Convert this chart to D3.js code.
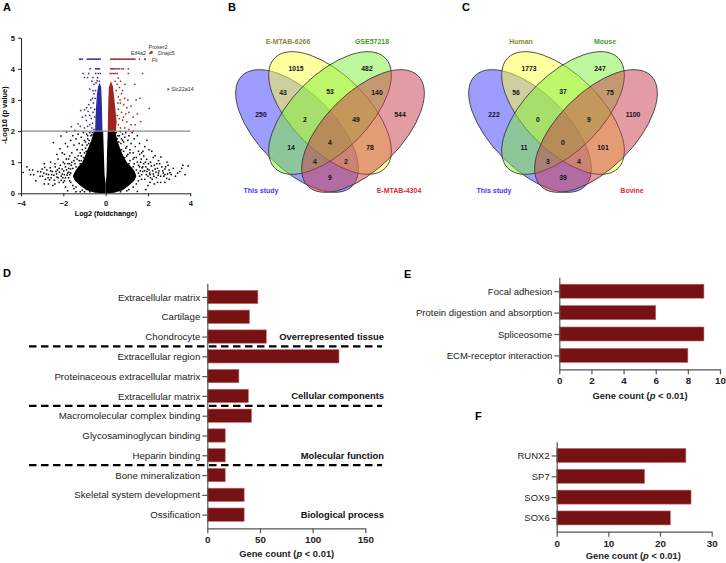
<!DOCTYPE html>
<html><head><meta charset="utf-8">
<script src="https://cdn.jsdelivr.net/npm/d3@7"></script>
<style>body{margin:0;background:#fff}svg{display:block}text{font-family:"Liberation Sans",Arial,sans-serif}</style>
</head><body><svg id="c" width="726" height="563"></svg>
<script>
// ---------- Panel A data (volcano) ----------
const xTicksA = [-4,-2,0,2,4];
const yTicksA = [0,1,2,3,4,5];
const thresholdA = 2;
const blackCoreLeft = [[-0.12,2.0],[-0.55,2.0],[-0.68,1.7],[-0.8,1.5],[-0.95,1.25],[-1.1,1.0],[-1.3,0.85],[-1.45,0.7],[-1.55,0.55],[-1.45,0.4],[-1.2,0.25],[-0.9,0.1],[-0.5,0.02],[0,0.0],[0,0.3],[-0.05,0.6],[-0.08,1.2],[-0.1,1.6]];
const blackCoreRight = [[0.1,2.0],[0.45,2.0],[0.55,1.7],[0.65,1.5],[0.8,1.25],[1.0,1.0],[1.2,0.85],[1.38,0.7],[1.45,0.55],[1.35,0.4],[1.1,0.25],[0.8,0.1],[0.4,0.02],[0,0.0],[0,0.3],[0.04,0.6],[0.06,1.2],[0.08,1.6]];
const blueCore = [[-0.15,2.0],[-0.5,2.0],[-0.48,2.4],[-0.45,2.8],[-0.41,3.2],[-0.35,3.45],[-0.28,3.55],[-0.21,3.4],[-0.18,2.9]];
const redCore = [[0.1,2.0],[0.48,2.0],[0.52,2.3],[0.46,2.7],[0.4,3.1],[0.34,3.45],[0.25,3.6],[0.15,3.4],[0.12,2.8]];
const blackPoints = [[-3.9,0.67],[-3.72,0.85],[-3.45,0.75],[-3.4,0.6],[-3.2,0.7],[-3.07,0.69],[-2.98,0.55],[-2.88,0.83],[-2.8,0.62],[-2.72,0.5],[-2.65,0.43],[-2.6,0.72],[-2.55,0.6],[-2.47,1.63],[-2.4,0.95],[-2.35,0.7],[-2.3,0.52],[-2.25,1.1],[-2.2,0.8],[-2.16,1.43],[-2.11,1.84],[-2.05,0.62],[-2.0,1.0],[-1.95,1.25],[-1.9,0.85],[-1.85,1.97],[-1.8,1.5],[-1.75,1.1],[-1.7,0.95],[-1.65,1.7],[-1.6,1.3],[-1.55,1.85],[-1.5,1.55],[-1.45,1.15],[-1.4,1.75],[-1.35,1.4],[-1.3,1.9],[-1.25,1.6],[-1.2,1.3],[-1.15,1.8],[-1.1,1.55],[-1.05,1.95],[-1.0,1.7],[-0.95,1.45],[-0.9,1.9],[-0.85,1.75],[-0.8,1.6],[-0.75,1.95],[-0.7,1.85],[-3.3,0.4],[-2.9,0.3],[-2.5,0.25],[-2.2,0.35],[-1.9,0.2],[-1.7,0.4],[-1.5,0.15],[-1.3,0.5],[-1.8,0.08],[-1.4,0.05],[-1.15,1.05],[-1.35,1.1],[-1.6,1.0],[-1.85,0.75],
[-0.62,1.95],[-0.7,1.6],[-0.78,1.7],[-0.88,1.55],[-0.92,1.35],[-1.0,1.3],[-1.05,1.15],[-1.15,1.2],[-1.2,0.95],[-1.25,1.05],[-1.4,0.85],[-1.45,0.95],[-1.55,0.8],[-1.65,0.65],[-1.7,0.6],[-1.75,0.5],[-1.8,0.65],[-1.65,0.35],[-1.55,0.25],[-1.4,0.2],[-1.1,0.1],[-1.2,0.05],[-0.65,1.88],[-0.85,1.85],[-0.95,1.65],[-1.1,1.4],[-1.3,1.2],[-1.5,1.05],[-1.75,0.8],[-1.95,0.6],[-2.1,0.55],[-1.95,0.4],[-1.0,0.05],[-0.75,0.05],
[-3.1,0.55],[-3.0,0.78],[-2.92,0.65],[-2.85,0.45],[-2.78,0.75],[-2.7,0.6],[-2.62,0.82],[-2.58,0.5],[-2.52,0.7],[-2.45,0.58],[-2.42,0.42],[-2.38,0.85],[-2.32,0.62],[-2.28,0.75],[-2.24,0.5],[-2.18,0.68],[-2.14,0.9],[-2.1,0.42],[-2.06,0.78],[-2.02,0.5],[-1.98,0.72],[-1.94,0.95],[-1.9,0.5],[-1.86,1.1],[-1.82,0.58],[-1.78,0.95],[-1.74,0.68],[-1.7,1.2],[-1.66,0.78],[-1.62,0.9],[-3.55,0.6],[-3.6,0.75],[-2.7,0.3],[-2.4,0.3],[-2.0,0.35],[-2.05,1.3],[-1.9,1.6],[-2.3,1.25],[-2.6,1.0],[-2.9,0.95],
[3.9,0.88],[3.59,0.8],[3.4,0.65],[3.2,0.8],[3.04,0.66],[2.95,0.9],[2.83,0.85],[2.75,0.55],[2.7,0.72],[2.61,1.17],[2.55,0.95],[2.5,0.65],[2.45,0.8],[2.4,0.5],[2.33,1.21],[2.3,0.9],[2.25,0.62],[2.18,1.35],[2.12,1.0],[2.05,0.75],[2.0,0.55],[1.94,1.09],[1.9,0.85],[1.85,1.5],[1.8,1.2],[1.75,0.7],[1.7,1.3],[1.65,1.0],[1.6,1.6],[1.55,1.35],[1.5,1.85],[1.45,1.15],[1.4,1.5],[1.35,1.75],[1.3,1.3],[1.25,1.95],[1.2,1.6],[1.15,1.4],[1.1,1.85],[1.05,1.7],[1.0,1.5],[0.95,1.95],[0.9,1.8],[0.85,1.65],[0.8,1.9],[0.75,1.75],[0.7,1.98],[0.65,1.85],[3.0,0.45],[2.6,0.35],[2.3,0.3],[2.0,0.25],[1.7,0.45],[2.8,0.6],[3.3,0.55],[3.5,0.7],[1.5,0.06],[1.9,0.12],[1.3,1.1],[1.05,1.25],[1.6,0.85],[2.2,0.45],
[0.5,1.95],[0.58,1.85],[0.62,1.65],[0.72,1.6],[0.75,1.4],[0.85,1.35],[0.9,1.15],[1.0,1.2],[1.1,0.95],[1.15,1.05],[1.3,0.85],[1.35,0.95],[1.45,0.75],[1.55,0.65],[1.6,0.55],[1.7,0.6],[1.55,0.4],[1.45,0.3],[1.3,0.2],[1.0,0.08],[1.1,0.12],[0.55,1.75],[0.8,1.7],[0.95,1.45],[1.15,1.3],[1.35,1.15],[1.5,1.0],[1.75,0.85],[1.95,0.7],[2.1,0.6],[1.85,0.45],[0.7,0.05],
[3.1,0.6],[3.0,0.75],[2.92,0.62],[2.88,0.48],[2.8,0.78],[2.72,0.65],[2.65,0.85],[2.6,0.55],[2.52,0.72],[2.48,0.58],[2.42,0.95],[2.38,0.68],[2.34,0.78],[2.28,0.55],[2.22,0.72],[2.16,0.88],[2.12,0.5],[2.08,0.65],[2.02,0.95],[1.98,0.78],[1.92,0.6],[1.88,1.0],[1.84,0.72],[1.8,0.95],[1.76,1.35],[1.72,0.82],[1.68,1.1],[1.64,0.72],[1.6,1.25],[1.56,0.9],[3.65,0.9],[3.75,0.6],[2.8,0.35],[2.45,0.35],[2.1,0.35],[2.25,1.15],[2.05,1.4],[2.5,1.05],[2.9,1.0],[1.95,1.7]];
const bluePoints = [[-1.23,4.31],[-1.17,4.31],[-1.11,4.31],[-0.86,4.31],[-0.8,4.31],[-0.74,4.31],[-0.68,4.31],[-0.62,4.31],[-0.56,4.31],[-0.5,4.31],[-0.44,4.31],[-0.38,4.31],[-0.32,4.31],[-0.26,4.31],
[-0.73,4.0],[-0.47,4.0],[-0.41,4.0],[-0.35,4.0],[-0.29,4.0],[-1.07,3.85],[-0.8,3.85],[-0.47,3.85],[-0.35,3.85],[-0.25,3.85],[-1.0,3.72],[-0.85,3.72],[-0.6,3.72],[-0.38,3.72],
[-0.55,3.5],[-0.6,3.3],[-0.7,3.0],[-0.65,3.6],[-0.55,3.2],[-0.8,2.85],[-0.9,2.75],[-1.0,2.68],[-1.18,2.66],[-0.83,2.63],[-0.91,2.34],[-0.75,2.5],[-0.68,2.4],[-1.3,2.23],[-1.62,2.14],[-1.2,2.15],[-1.0,2.1],[-1.46,2.02],[-0.85,2.15],[-0.75,2.2],[-0.62,2.25],[-0.6,2.6],[-0.58,2.9],[-0.52,2.45],[-0.52,2.7],[-0.5,3.05],[-1.1,2.45],[-0.95,2.5],[-0.7,2.75],[-0.65,2.1],[-0.55,2.05],[-0.48,3.3],[-0.45,3.55],[-0.4,3.62],[-0.3,3.6],[-0.75,3.35],[-0.62,3.05]];
const redPoints = [[0.24,4.31],[0.3,4.31],[0.36,4.31],[0.42,4.31],[0.48,4.31],[0.54,4.31],[0.6,4.31],[0.66,4.31],[0.72,4.31],[0.78,4.31],[0.84,4.31],[0.9,4.31],[0.96,4.31],[1.02,4.31],[1.08,4.31],[1.14,4.31],[1.2,4.31],[1.26,4.31],[1.32,4.31],[1.38,4.31],[1.6,4.31],
[0.24,4.0],[0.3,4.0],[0.36,4.0],[0.42,4.0],[0.5,4.0],[0.58,4.0],[0.66,4.0],[0.76,4.0],[0.84,4.0],[1.07,4.0],[0.22,3.85],[0.3,3.85],[0.38,3.85],[0.46,3.85],[0.55,3.85],[1.07,3.85],[1.74,3.85],
[0.6,3.7],[0.7,3.6],[0.55,3.5],[0.65,3.4],[0.8,3.3],[0.91,3.5],[1.38,3.5],[0.75,3.2],[0.6,3.1],[0.9,3.05],[1.05,3.0],[1.44,3.0],[1.62,3.05],[0.7,2.9],[0.85,2.85],[1.0,2.75],[1.2,2.8],[0.6,2.7],[0.75,2.6],[0.95,2.55],[1.1,2.6],[1.3,2.45],[2.06,2.73],[0.65,2.4],[0.8,2.35],[1.0,2.3],[1.2,2.2],[1.4,2.2],[0.6,2.2],[0.7,2.1],[0.9,2.1],[1.1,2.05],[0.55,2.5],[0.58,2.9],[0.5,3.3],[0.45,3.6],[1.5,2.55],[1.65,2.3],[1.3,2.0],[0.85,2.45],[0.68,3.0]];
const labelledGenes = ["Proser2","Eif4a2","Dnajc5","Fli","Slc22a14"];
const labelledX = [2.17,2.1,2.17,1.86,2.96];
const labelledY = [4.55,4.5,4.52,4.31,3.34];

// ---------- Panels B and C data (Venn) ----------
const vennSetsB = ["This study","E-MTAB-6266","GSE57218","E-MTAB-4304"];
const vennSetsC = ["This study","Human","Mouse","Bovine"];
// region keys: which sets (1=This study, 2, 3, 4) the region belongs to
const vennRegionKeys = ["2","3","1","4","12","23","34","123","234","13","1234","24","134","124","14"];
const vennCountsB = [1015,482,250,544,43,53,140,2,49,14,4,78,4,2,9];
const vennCountsC = [1773,247,222,1100,56,37,75,0,9,11,0,101,3,4,39];

// ---------- Panel D data ----------
const termsD = ["Extracellular matrix","Cartilage","Chondrocyte","Extracellular region","Proteinaceous extracellular matrix","Extracellular matrix","Macromolecular complex binding","Glycosaminoglycan binding","Heparin binding","Bone mineralization","Skeletal system development","Ossification"];
const valuesD = [48,40,56,125,30,39,42,17,17,17,35,35];
const groupNamesD = ["Overrepresented tissue","Cellular components","Molecular function","Biological process"];
const groupLastIndexD = [2,5,8,11];
const xTicksD = [0,50,100,150];

// ---------- Panel E data ----------
const termsE = ["Focal adhesion","Protein digestion and absorption","Spliceosome","ECM-receptor interaction"];
const valuesE = [9,6,9,8];
const xTicksE = [0,2,4,6,8,10];

// ---------- Panel F data ----------
const termsF = ["RUNX2","SP7","SOX9","SOX6"];
const valuesF = [25,17,26,22];
const xTicksF = [0,10,20,30];

// ================= drawing =================
const svg = d3.select("#c");
svg.append("rect").attr("width",726).attr("height",563).attr("fill","#fff");
const FONT = '"Liberation Sans",Arial,sans-serif';

function panelLetter(t,x,y){ svg.append("text").attr("x",x).attr("y",y).attr("font-size",11).attr("font-weight","bold").text(t); }
panelLetter("A",3,10.5); panelLetter("B",228,10.5); panelLetter("C",462,10.5);
panelLetter("D",3,277); panelLetter("E",404,278); panelLetter("F",475,419.5);

// ---------- A ----------
const xA = d3.scaleLinear().domain([-4,4]).range([21,190.3]);
const yA = d3.scaleLinear().domain([0,5]).range([193.3,37.7]);
const gA = svg.append("g");
const lineA = d3.line().x(d=>xA(d[0])).y(d=>yA(d[1])).curve(d3.curveLinearClosed);
function core(pts,col){ gA.append("path").attr("d",lineA(pts)).attr("fill",col); }
function dots(data,col){
  gA.append("g").selectAll("rect").data(data).join("rect")
    .attr("x",d=>xA(d[0])-0.75).attr("y",d=>yA(d[1])-0.75)
    .attr("width",1.5).attr("height",1.5).attr("fill",col);
}
core(blackCoreLeft,"#000"); core(blackCoreRight,"#000");
dots(blackPoints,"#000");
core(blueCore,"#2b2b9e"); core(redCore,"#9e2424");
dots(bluePoints,"#2b2b9e"); dots(redPoints,"#9e2424");
gA.append("line").attr("x1",xA(-4)).attr("x2",xA(4)).attr("y1",yA(thresholdA)).attr("y2",yA(thresholdA))
  .attr("stroke","#8a8a8a").attr("stroke-width",1.2);
const lab = labelledGenes.map((g,i)=>({g,x:labelledX[i],y:labelledY[i]}));
gA.append("g").selectAll("rect").data(lab).join("rect")
  .attr("x",d=>xA(d.x)-0.9).attr("y",d=>yA(d.y)-0.9).attr("width",1.8).attr("height",1.8).attr("fill","#b02020");
const labOff = {"Proser2":[-3,-2.5],"Eif4a2":[-4,2.2],"Dnajc5":[6.4,1.9],"Fli":[6.7,3.3],"Slc22a14":[3,2.1]};
const labAnchor = {"Proser2":"start","Eif4a2":"end","Dnajc5":"start","Fli":"start","Slc22a14":"start"};
gA.append("g").selectAll("text").data(lab).join("text")
  .attr("x",d=>xA(d.x)+labOff[d.g][0]).attr("y",d=>yA(d.y)+labOff[d.g][1])
  .attr("text-anchor",d=>labAnchor[d.g]).attr("font-size",5.4).attr("fill","#333").text(d=>d.g);
const axAx = gA.append("g").attr("transform",`translate(0,${yA(0)})`)
  .call(d3.axisBottom(xA).tickValues(xTicksA).tickSize(3).tickSizeOuter(0).tickFormat(d3.format("d")));
const axAy = gA.append("g").attr("transform",`translate(${xA(-4)},0)`)
  .call(d3.axisLeft(yA).tickValues(yTicksA).tickSize(3).tickSizeOuter(0).tickFormat(d3.format("d")));
[axAx,axAy].forEach(a=>{a.selectAll("path,line").attr("stroke","#222").attr("stroke-width",1);
  a.selectAll("text").attr("font-family",FONT).attr("font-size",7.5).attr("font-weight","bold").attr("fill","#111");});
axAx.selectAll("text").attr("dy","0.9em");
gA.append("text").attr("x",106).attr("y",215.5).attr("text-anchor","middle").attr("font-size",7.2).attr("font-weight","bold").text("Log2 (foldchange)");
gA.append("text").attr("transform","translate(6.5,115) rotate(-90)").attr("text-anchor","middle").attr("font-size",7.5).attr("font-weight","bold").text("-Log10 (p value)");

// ---------- Venn ----------
const vennFill = ["#3b3bff","#ffff40","#7ff03a","#c83a48"];
const vennTextCol = ["#4040f0","#8a8a3a","#4c9a2c","#d03030"];
const ellipseLayout = [{dx:-33,cy:131,rot:45},{dx:0,cy:113,rot:45},{dx:0,cy:113,rot:-45},{dx:33,cy:131,rot:-45}];
const regionPos = {"2":[-34,69],"3":[37,69],"1":[-69,115],"4":[70,115],"12":[-47,93],"23":[0,92],"34":[47,93],"123":[-25,120],"234":[26,120],"13":[-39,148],"1234":[0,143],"24":[40,148],"134":[-15,162],"124":[16,162],"14":[0,178]};
const setLabelPos = [[-69,191],[-42,42],[42,42],[69,191]];
function venn(cx, sets, counts){
  const g = svg.append("g").attr("transform",`translate(${cx},0)`);
  g.selectAll("ellipse").data(ellipseLayout).join("ellipse")
    .attr("transform",d=>`translate(${d.dx},${d.cy}) rotate(${d.rot})`)
    .attr("rx",78).attr("ry",38)
    .attr("fill",(d,i)=>vennFill[i]).attr("fill-opacity",0.5)
    .attr("stroke","#333").attr("stroke-width",0.8);
  g.selectAll("text.n").data(vennRegionKeys).join("text").attr("class","n")
    .attr("x",k=>regionPos[k][0]).attr("y",k=>regionPos[k][1]).attr("dy","0.35em")
    .attr("text-anchor","middle").attr("font-size",6.8).attr("font-weight","bold").attr("fill","#111")
    .text((k,i)=>counts[i]);
  g.selectAll("text.s").data(sets).join("text").attr("class","s")
    .attr("x",(d,i)=>setLabelPos[i][0]).attr("y",(d,i)=>setLabelPos[i][1]).attr("dy","0.35em")
    .attr("text-anchor","middle").attr("font-size",7).attr("font-weight","bold")
    .attr("fill",(d,i)=>vennTextCol[i]).text(d=>d);
}
venn(330, vennSetsB, vennCountsB);
venn(563, vennSetsC, vennCountsC);

// ---------- bar charts ----------
const BAR = "#761214", BAR_EDGE = "#c06a6a", AX = "#555";
function styleAxis(a, size, bold){
  a.selectAll("path,line").attr("stroke",AX).attr("stroke-width",1.2);
  a.selectAll("text").attr("font-family",FONT).attr("font-size",size).attr("fill","#222")
   .attr("font-weight",bold?"bold":"normal");
}
function barPanel(terms, values, xDomain, xRange, yRange, pad, barH, ticks, titleX, titleY, labSize){
  const x = d3.scaleLinear().domain(xDomain).range(xRange);
  const y = d3.scalePoint().domain(d3.range(terms.length)).range(yRange).padding(pad);
  const g = svg.append("g");
  g.selectAll("rect").data(values).join("rect")
    .attr("x",x(0)).attr("y",(d,i)=>y(i)-barH/2).attr("width",d=>x(d)-x(0)).attr("height",barH)
    .attr("fill",BAR).attr("stroke",BAR_EDGE).attr("stroke-width",0.6);
  const ay = g.append("g").attr("transform",`translate(${x(0)},0)`)
    .call(d3.axisLeft(y).tickSize(5).tickSizeOuter(0).tickPadding(2).tickFormat(i=>terms[i]));
  styleAxis(ay,labSize,false);
  const ax = g.append("g").attr("transform",`translate(0,${yRange[1]})`)
    .call(d3.axisBottom(x).tickValues(ticks).tickSize(5).tickSizeOuter(0).tickPadding(3));
  styleAxis(ax,9.8,true);
  const t = g.append("text").attr("x",titleX).attr("y",titleY).attr("text-anchor","middle")
    .attr("font-size",9.4).attr("font-weight","bold").attr("fill","#222");
  t.append("tspan").text("Gene count (");
  t.append("tspan").attr("font-style","italic").text("p");
  t.append("tspan").text(" < 0.01)");
  return {x,y,g};
}
const D = barPanel(termsD, valuesD, [0,150], [207.3,365.3], [283.3,528.3], 0.69, 13.3, xTicksD, 286.7, 556.5, 9.7);
const sepY = groupLastIndexD.slice(0,-1).map(i=>(D.y(i)+D.y(i+1))/2);
D.g.selectAll("line.sep").data(sepY).join("line").attr("class","sep")
  .attr("x1",29).attr("x2",382).attr("y1",d=>d).attr("y2",d=>d)
  .attr("stroke","#000").attr("stroke-width",2.3).attr("stroke-dasharray","7.5,4.5");
D.g.selectAll("text.grp").data(groupNamesD).join("text").attr("class","grp")
  .attr("x",384).attr("y",(d,i)=>D.y(groupLastIndexD[i])+3.5).attr("text-anchor","end")
  .attr("font-size",9.4).attr("font-weight","bold").attr("fill","#111").text(d=>d);

barPanel(termsE, valuesE, [0,10], [559.3,720], [277.3,369.3], 0.65, 14, xTicksE, 640, 399, 9.5);
barPanel(termsF, valuesF, [0,30], [556.7,711.7], [441.7,531.7], 0.66, 14, xTicksF, 633.3, 558.5, 9.5);
</script></body></html>
